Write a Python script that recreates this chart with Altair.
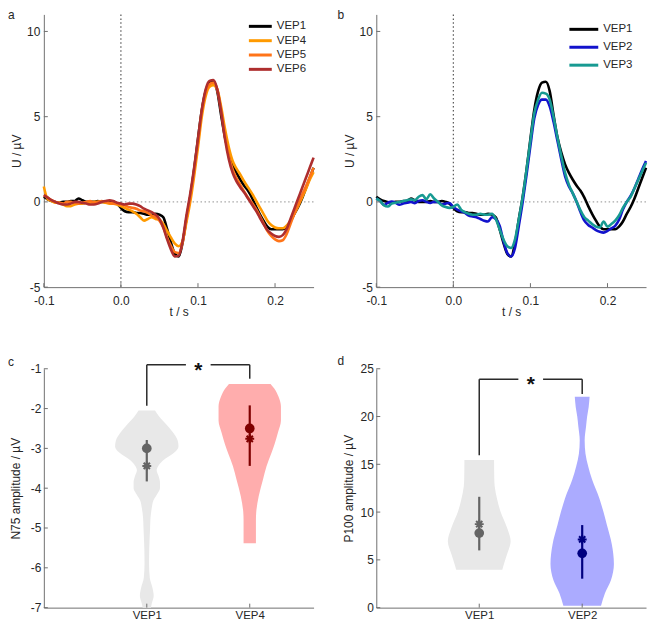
import altair as alt
import pandas as pd

# ---------------- data: waveforms (t in s, U in µV) ----------------
T = [-0.100, -0.095, -0.090, -0.085, -0.080, -0.075, -0.070, -0.065, -0.060, -0.055,
     -0.050, -0.045, -0.040, -0.035, -0.030, -0.025, -0.020, -0.015, -0.010, -0.005,
     0.000, 0.005, 0.010, 0.015, 0.020, 0.025, 0.030, 0.035, 0.040, 0.045,
     0.050, 0.055, 0.060, 0.065, 0.070, 0.075, 0.080, 0.085, 0.090, 0.095,
     0.100, 0.105, 0.110, 0.115, 0.120, 0.125, 0.130, 0.135, 0.140, 0.145,
     0.150, 0.155, 0.160, 0.165, 0.170, 0.175, 0.180, 0.185, 0.190, 0.195,
     0.200, 0.205, 0.210, 0.215, 0.220, 0.225, 0.230, 0.235, 0.240, 0.245,
     0.250]

VEP1 = [0.30, 0.15, 0.05, 0.0, -0.05, 0.0, 0.0, 0.05, 0.05, 0.2,
        0.1, 0.0, 0.0, 0.0, 0.05, 0.0, 0.0, 0.05, 0.0, -0.1,
        -0.35, -0.55, -0.6, -0.6, -0.65, -0.65, -0.7, -0.75, -0.75, -0.7,
        -0.75, -0.9, -1.6, -2.4, -3.05, -3.2, -2.4, -1.0, 0.3, 1.9,
        3.7, 5.4, 6.5, 7.0, 7.05, 6.5, 5.1, 3.8, 2.9, 2.2,
        1.7, 1.3, 0.95, 0.65, 0.25, -0.25, -0.7, -1.1, -1.45, -1.6,
        -1.6, -1.6, -1.6, -1.45, -1.15, -0.7, -0.3, 0.2, 0.8, 1.4,
        2.0]
VEP4 = [0.9, 0.15, 0.05, -0.05, -0.05, -0.15, -0.25, -0.25, -0.15, -0.1,
        -0.1, -0.05, -0.05, 0.0, 0.0, 0.0, -0.05, -0.1, -0.1, -0.15,
        -0.25, -0.35, -0.45, -0.55, -0.7, -0.9, -1.1, -1.0, -0.9, -1.0,
        -1.05, -1.3, -1.7, -2.1, -2.45, -2.6, -2.3, -1.2, 0.0, 1.5,
        3.2, 5.0, 6.2, 6.75, 6.85, 6.6, 5.6, 4.3, 3.2, 2.4,
        1.95, 1.6, 1.2, 0.85, 0.5, 0.1, -0.3, -0.7, -1.1, -1.35,
        -1.5, -1.55, -1.55, -1.4, -1.1, -0.7, -0.25, 0.25, 0.75, 1.3,
        1.75]
VEP5 = [0.4, 0.25, 0.1, 0.0, -0.05, -0.1, 0.0, 0.0, -0.05, -0.1,
        -0.05, 0.0, 0.05, -0.05, 0.0, 0.05, 0.0, -0.05, -0.1, -0.1,
        -0.15, -0.2, -0.3, -0.35, -0.4, -0.5, -0.55, -0.65, -0.8, -0.9,
        -1.1, -1.5, -2.1, -2.6, -2.95, -3.0, -2.4, -1.0, 0.3, 1.8,
        3.5, 5.3, 6.4, 6.9, 7.0, 6.6, 5.4, 3.9, 2.7, 1.9,
        1.4, 1.0, 0.6, 0.25, -0.05, -0.4, -0.8, -1.25, -1.7, -2.0,
        -2.2, -2.3, -2.25, -1.9, -1.3, -0.7, -0.15, 0.4, 0.9, 1.45,
        2.0]
VEP6 = [0.4, 0.25, 0.1, 0.0, -0.1, -0.15, -0.15, -0.1, 0.0, 0.0,
        -0.05, -0.1, -0.15, -0.15, -0.1, 0.0, 0.05, 0.1, 0.05, -0.05,
        -0.1, -0.15, -0.1, -0.1, -0.15, -0.25, -0.4, -0.5, -0.6, -0.75,
        -1.0, -1.5, -2.2, -2.8, -3.2, -3.15, -2.3, -0.8, 0.5, 2.0,
        3.7, 5.4, 6.6, 7.1, 7.15, 6.6, 5.3, 3.7, 2.5, 1.7,
        1.2, 0.85, 0.55, 0.2, -0.15, -0.5, -0.9, -1.3, -1.65, -1.85,
        -2.0, -2.05, -1.95, -1.6, -1.0, -0.4, 0.2, 0.8, 1.4, 2.0,
        2.6]
VEP2 = [0.2, 0.05, -0.17, -0.05, 0.02, -0.05, -0.17, -0.1, -0.05, 0.0,
        -0.07, 0.05, 0.1, 0.0, -0.06, 0.0, 0.0, -0.15, -0.1, -0.06,
        -0.3, -0.45, -0.55, -0.65, -0.8, -0.85, -0.9, -1.0, -1.1, -1.15,
        -0.9, -1.0, -1.4, -2.3, -3.0, -3.2, -2.7, -1.4, 0.0, 1.6,
        3.3, 4.9, 5.7, 6.0, 6.0, 5.6, 4.7, 3.6, 2.5, 1.5,
        0.9, 0.5, 0.0, -0.6, -1.1, -1.35, -1.5, -1.65, -1.75, -1.8,
        -1.7, -1.55, -1.4, -1.05, -0.45, 0.0, 0.35, 0.8, 1.35, 1.9,
        2.4]
VEP3 = [0.2, 0.05, -0.2, -0.27, -0.1, -0.05, 0.0, 0.05, 0.1, 0.15,
        0.1, 0.3, 0.4, 0.15, 0.45, 0.2, 0.0, -0.2, -0.3, -0.35,
        -0.3, -0.15, -0.45, -0.6, -0.7, -0.75, -0.75, -0.7, -0.75, -0.75,
        -0.7, -1.0, -1.6, -2.2, -2.6, -2.7, -2.2, -1.0, 0.3, 1.9,
        3.6, 5.2, 6.0, 6.4, 6.35, 6.0, 5.0, 3.8, 2.7, 1.7,
        1.0, 0.5, 0.0, -0.5, -0.9, -1.1, -1.3, -1.45, -1.5, -1.15,
        -1.45, -1.3, -1.1, -0.8, -0.35, 0.0, 0.3, 0.8, 1.3, 1.8,
        2.3]

SERIES = {"VEP1": VEP1, "VEP2": VEP2, "VEP3": VEP3, "VEP4": VEP4, "VEP5": VEP5, "VEP6": VEP6}
NAMES_A = ["VEP1", "VEP4", "VEP5", "VEP6"]
COLORS_A = ["#000000", "#FF9A00", "#FF7418", "#AE2E2E"]
NAMES_B = ["VEP1", "VEP2", "VEP3"]
COLORS_B = ["#000000", "#1212CC", "#179A92"]
XTICKS_WAVE = [-0.1, 0.0, 0.1, 0.2]
YTICKS_WAVE = [-5, 0, 5, 10]

# ---------------- data: violins ----------------
# panel c (N75 amplitude)
C_CATS = ["VEP1", "VEP4"]
C_V1_VAL = [-2.05, -2.2, -2.4, -2.6, -2.8, -2.95, -3.1, -3.3, -3.45, -3.55, -3.7, -3.85, -4.0,
            -4.15, -4.3, -4.5, -4.75, -5.0, -5.5, -5.9, -6.25, -6.5, -6.7, -6.9, -7.0]
C_V1_W = [0.080, 0.120, 0.190, 0.255, 0.300, 0.308, 0.270, 0.160, 0.110, 0.096, 0.115, 0.128, 0.128,
          0.100, 0.065, 0.048, 0.036, 0.032, 0.024, 0.022, 0.029, 0.055, 0.067, 0.048, 0.040]
C_V4_VAL = [-1.38, -1.5, -1.7, -1.95, -2.3, -2.6, -2.9, -3.13, -3.45, -3.79, -4.2, -4.6, -4.8, -5.38]
C_V4_W = [0.202, 0.240, 0.279, 0.303, 0.303, 0.274, 0.240, 0.209, 0.163, 0.128, 0.087, 0.063, 0.060, 0.060]
C_MEAN = [-3.0, -2.5]
C_MEDIAN = [-3.44, -2.76]
C_LO = [-3.83, -3.44]
C_HI = [-2.79, -1.92]
C_BRACKET = [-0.9, -1.93, -1.25]   # top, left leg end, right leg end
C_YTICKS = [-7, -6, -5, -4, -3, -2, -1]

# panel d (P100 amplitude)
D_CATS = ["VEP1", "VEP2"]
D_V1_VAL = [15.44, 13.5, 12.7, 11.3, 10.0, 8.3, 6.94, 5.58, 4.56, 3.97]
D_V1_W = [0.144, 0.146, 0.150, 0.175, 0.208, 0.272, 0.305, 0.270, 0.240, 0.224]
D_V2_VAL = [22.07, 21.0, 20.0, 19.0, 17.5, 16.1, 14.8, 13.4, 11.4, 10.0, 8.64, 6.6, 4.56, 2.86, 1.5, 0.2]
D_V2_W = [0.072, 0.063, 0.048, 0.038, 0.024, 0.032, 0.058, 0.096, 0.168, 0.207, 0.240, 0.288,
          0.308, 0.279, 0.221, 0.183]
D_MEAN = [7.8, 5.68]
D_MEDIAN = [8.74, 7.14]
D_LO = [5.99, 3.03]
D_HI = [11.6, 8.64]
D_BRACKET = [23.9, 15.95, 22.35]
D_YTICKS = [0, 5, 10, 15, 20, 25]

# ---------------- style ----------------
FONT = "Liberation Sans"
AX_COL = "#707070"
LAB_COL = "#262626"
W = 271
H1 = 274
H2 = 240
AST = "M0,-1L0,1M-1,0L1,0M-0.7,-0.7L0.7,0.7M-0.7,0.7L0.7,-0.7"
NEG = "(datum.value < 0 ? '-' : '')"


def panel_label(text, dx, dy):
    return alt.Chart(pd.DataFrame({"p": [text]})).mark_text(
        align="left", baseline="top", fontSize=12, font=FONT, color=LAB_COL
    ).encode(x=alt.value(dx), y=alt.value(dy), text="p:N")


def wave_panel(label, names, colors, leg_x0, leg_x1, leg_tx, leg_y0, leg_dy):
    xs = alt.Scale(domain=[-0.1, 0.25], nice=False, zero=False)
    ys = alt.Scale(domain=[-5, 11], nice=False, zero=False)
    xax = alt.Axis(values=XTICKS_WAVE, labelExpr=NEG + " + format(abs(datum.value), '.1f')",
                   title="t / s", labelFlush=False, labelPadding=8, titleX=W / 2, titleY=24,
                   titleBaseline="middle", titleAlign="center")
    yax = alt.Axis(values=YTICKS_WAVE, labelExpr=NEG + " + abs(datum.value)", title="U / µV",
                   labelPadding=4, titleX=-27, titleY=H1 / 2, titleAngle=270,
                   titleAlign="center", titleBaseline="middle")
    X = lambda f="t": alt.X(f + ":Q", scale=xs, axis=xax)
    Y = lambda f="U": alt.Y(f + ":Q", scale=ys, axis=yax)
    layers = []
    layers.append(alt.Chart(pd.DataFrame({"t": [0.0]})).mark_rule(
        color="#555555", strokeDash=[1.5, 2.5], strokeWidth=1.2).encode(x=X()))
    layers.append(alt.Chart(pd.DataFrame({"t": [0.0], "t2": [0.25], "U": [0.0]})).mark_rule(
        color="#a8a8a8", strokeDash=[1.5, 2.5], strokeWidth=1.2).encode(x=X(), x2="t2:Q", y=Y()))
    for name, col in zip(names, colors):
        df = pd.DataFrame({"t": T, "U": SERIES[name]})
        layers.append(alt.Chart(df).mark_line(color=col, strokeWidth=2.6, interpolate="monotone")
                      .encode(x=X(), y=Y()))
    # inward ticks
    layers.append(alt.Chart(pd.DataFrame({"t": XTICKS_WAVE})).mark_rule(color=AX_COL).encode(
        x=X(), y=alt.value(H1), y2=alt.value(H1 - 4)))
    layers.append(alt.Chart(pd.DataFrame({"U": YTICKS_WAVE})).mark_rule(color=AX_COL).encode(
        y=Y(), x=alt.value(0), x2=alt.value(4)))
    # legend
    for i, (name, col) in enumerate(zip(names, colors)):
        d = pd.DataFrame({"name": [name]})
        yy = leg_y0 + i * leg_dy
        layers.append(alt.Chart(d).mark_rule(color=col, strokeWidth=3).encode(
            x=alt.value(leg_x0), x2=alt.value(leg_x1), y=alt.value(yy)))
        layers.append(alt.Chart(d).mark_text(align="left", baseline="middle", fontSize=11.5,
                                             font=FONT, color=LAB_COL).encode(
            x=alt.value(leg_tx), y=alt.value(yy), text="name:N"))
    layers.append(panel_label(label, -36 if label == "a" else -39, -4))
    return alt.layer(*layers).properties(width=W, height=H1)


def violin_panel(label, cats, fills, mcols, vals, widths, mean, median, lo, hi, bracket,
                 ydom, yticks, ytitle, lab_dy):
    xs = alt.Scale(domain=[0, 2.62], nice=False, zero=False)
    ys = alt.Scale(domain=ydom, nice=False, zero=False)
    expr = " : ".join(["datum.value == %d ? '%s'" % (i + 1, c) for i, c in enumerate(cats)]) + " : ''"
    xax = alt.Axis(values=[1, 2], labelExpr=expr, title=None, labelPadding=2, labelFontSize=11.5)
    yax = alt.Axis(values=yticks, labelExpr=NEG + " + abs(datum.value)", title=ytitle,
                   labelPadding=3, titleX=-28, titleY=H2 / 2, titleAngle=270,
                   titleAlign="center", titleBaseline="middle")
    X = lambda f: alt.X(f + ":Q", scale=xs, axis=xax)
    Y = lambda f: alt.Y(f + ":Q", scale=ys, axis=yax)
    layers = []
    for i in range(2):
        pos = i + 1
        df = pd.DataFrame({"v": vals[i],
                           "lo": [pos - w for w in widths[i]],
                           "hi": [pos + w for w in widths[i]]})
        layers.append(alt.Chart(df).mark_area(orient="horizontal", color=fills[i], opacity=1,
                                              interpolate="monotone")
                      .encode(y=Y("v"), x=X("lo"), x2="hi:Q"))
    for i in range(2):
        pos = i + 1
        st = pd.DataFrame({"pos": [pos], "lo": [lo[i]], "hi": [hi[i]],
                           "mean": [mean[i]], "median": [median[i]]})
        layers.append(alt.Chart(st).mark_rule(color=mcols[i], strokeWidth=2.2)
                      .encode(x=X("pos"), y=Y("lo"), y2="hi:Q"))
        layers.append(alt.Chart(st).mark_circle(color=mcols[i], size=95, opacity=1)
                      .encode(x=X("pos"), y=Y("mean")))
        layers.append(alt.Chart(st).mark_point(shape=AST, color=mcols[i], size=80, filled=False,
                                               strokeWidth=2, opacity=1)
                      .encode(x=X("pos"), y=Y("median")))
    # significance bracket
    top, lend, rend = bracket
    gap = 0.12
    layers.append(alt.Chart(pd.DataFrame({"pos": [1, 1.5 + gap], "p2": [1.5 - gap, 2],
                                          "v": [top, top]}))
                  .mark_rule(color="#2a2a2a", strokeWidth=1.5)
                  .encode(x=X("pos"), x2="p2:Q", y=Y("v")))
    layers.append(alt.Chart(pd.DataFrame({"pos": [1, 2], "v": [top, top], "v2": [lend, rend]}))
                  .mark_rule(color="#2a2a2a", strokeWidth=1.5)
                  .encode(x=X("pos"), y=Y("v"), y2="v2:Q"))
    layers.append(alt.Chart(pd.DataFrame({"pos": [1.5], "v": [top], "s": ["*"]}))
                  .mark_text(fontSize=21, fontWeight="bold", font=FONT, color="#111111",
                             baseline="alphabetic", dy=12)
                  .encode(x=X("pos"), y=Y("v"), text="s:N"))
    # inward ticks
    layers.append(alt.Chart(pd.DataFrame({"pos": [1, 2]})).mark_rule(color=AX_COL).encode(
        x=X("pos"), y=alt.value(H2), y2=alt.value(H2 - 4)))
    layers.append(alt.Chart(pd.DataFrame({"v": yticks})).mark_rule(color=AX_COL).encode(
        y=Y("v"), x=alt.value(0), x2=alt.value(4)))
    layers.append(panel_label(label, -36 if label == "c" else -39, lab_dy))
    return alt.layer(*layers).properties(width=W, height=H2)


pa = wave_panel("a", NAMES_A, COLORS_A, 206, 229, 234, 12, 14.4)
pb = wave_panel("b", NAMES_B, COLORS_B, 194, 223, 228, 15, 18)
pc = violin_panel("c", C_CATS, ["#E8E8E8", "#FFADAD"], ["#646464", "#7F0000"],
                  [C_V1_VAL, C_V4_VAL], [C_V1_W, C_V4_W], C_MEAN, C_MEDIAN, C_LO, C_HI,
                  C_BRACKET, [-7, -1], C_YTICKS, "N75 amplitude / µV", -12)
pd_ = violin_panel("d", D_CATS, ["#E8E8E8", "#ABABFF"], ["#646464", "#000080"],
                   [D_V1_VAL, D_V2_VAL], [D_V1_W, D_V2_W], D_MEAN, D_MEDIAN, D_LO, D_HI,
                   D_BRACKET, [0, 25], D_YTICKS, "P100 amplitude / µV", -13)

chart = alt.concat(pa, pb, pc, pd_, columns=2, spacing={"row": 82, "column": 63},
                   bounds="flush").properties(padding=0).configure(
    font=FONT
).configure_view(stroke=None).configure_axis(
    domainColor=AX_COL, domainWidth=1, ticks=False, grid=False,
    labelFont=FONT, labelFontSize=12, labelColor=LAB_COL,
    titleFont=FONT, titleFontSize=12, titleFontWeight="normal", titleColor=LAB_COL
)

chart.save("out.html", embed_options={"renderer": "svg", "actions": False})
